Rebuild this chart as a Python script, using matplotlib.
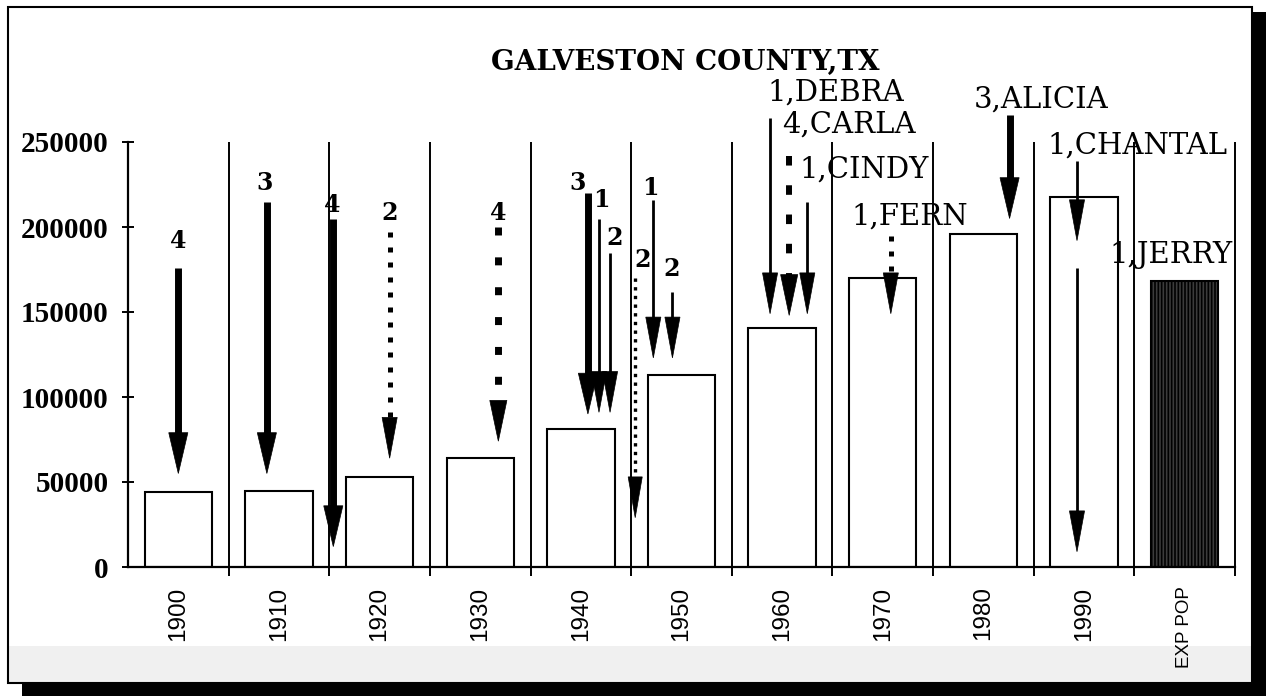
import numpy as np
import matplotlib
matplotlib.use("Agg")
import matplotlib.pyplot as plt
from matplotlib import patches

# census population per decade + expected population
categories = ["1900", "1910", "1920", "1930", "1940", "1950", "1960", "1970", "1980", "1990", "EXP POP"]
population = [44100, 44500, 53200, 64400, 81200, 113100, 140400, 169800, 195900, 217400, 168000]

# hurricane arrows: x position (category units), top value, tip value, style, label
arrow_x     = [0.0, 0.88, 1.54, 2.10, 3.18, 4.07, 4.18, 4.29, 4.54, 4.72, 4.91, 5.88, 6.07, 6.25, 7.08, 8.26, 8.93, 8.93]
arrow_top   = [176000, 215000, 205000, 197000, 200000, 220000, 205000, 185000, 170000, 216000, 162000,
               264000, 242000, 215000, 195000, 266000, 239000, 176000]
arrow_tip   = [55000, 55000, 12000, 64000, 74000, 90000, 91000, 91000, 29000, 123000, 123000,
               149000, 148000, 149000, 149000, 205000, 192000, 9000]
arrow_style = ["thick", "thick", "thick", "dot", "dash", "thick", "thin", "thin", "dot_thin", "thin", "thin",
               "thin", "dash2", "thin", "dot", "thick", "thin", "thin"]
arrow_label = ["4", "3", "4", "2", "4", "3", "1", "2", "2", "1", "2",
               "1,DEBRA", "4,CARLA", "1,CINDY", "1,FERN", "3,ALICIA", "1,CHANTAL", "1,JERRY"]
label_x = [0.0, 0.86, 1.53, 2.10, 3.18, 3.97, 4.20, 4.34, 4.61, 4.69, 4.90, 6.53, 6.66, 6.81, 7.27, 8.57, 9.53, 9.86]
label_y = [192000, 226000, 213000, 208000, 208000, 226000, 216000, 193500, 180500, 223000, 175000,
           279000, 260000, 233500, 206000, 275000, 248000, 183500]

styles = {
    "thick":    dict(lw=5.0, ls="-", hw=0.19),
    "thin":     dict(lw=2.0, ls="-", hw=0.15),
    "dot":      dict(lw=3.6, ls=(0, (1, 2)), hw=0.15),
    "dot_thin": dict(lw=2.4, ls=(0, (1, 1.6)), hw=0.14),
    "dash":     dict(lw=5.0, ls=(0, (1.15, 3.15)), hw=0.17),
    "dash2":    dict(lw=4.3, ls=(0, (1.6, 3.3)), hw=0.17),
}
head_len = 24000

fig = plt.figure(figsize=(12.66, 6.96), dpi=100)
ax = fig.add_axes([128 / 1266, 129 / 696, 1107 / 1266, 425 / 696])

plt.rcParams["hatch.linewidth"] = 1.2
x = np.arange(len(categories))
colors = ["white"] * (len(categories) - 1) + ["#3c3c3c"]
bars = ax.bar(x, population, width=0.67, color=colors, edgecolor="black", linewidth=1.5, zorder=2)
bars[-1].set_hatch("|||||")

# separators between categories
ax.vlines(np.arange(0.5, len(categories), 1.0), -5000, 250000, color="black", lw=1.4, clip_on=False, zorder=1)

for xa, top, tip, st, lab, lx, ly in zip(arrow_x, arrow_top, arrow_tip, arrow_style,
                                         arrow_label, label_x, label_y):
    s = styles[st]
    ax.plot([xa, xa], [top, tip + head_len * 0.6], color="black", lw=s["lw"], ls=s["ls"],
            solid_capstyle="butt", clip_on=False, zorder=4)
    ax.arrow(xa, tip + head_len, 0, -head_len, width=0, head_width=s["hw"], head_length=head_len,
             length_includes_head=True, fc="black", ec="black", lw=0.5, clip_on=False, zorder=5)
    if "," in lab:
        ax.text(lx, ly, lab, ha="center", va="center", fontsize=21, family="DejaVu Serif", zorder=6)
    else:
        ax.text(lx, ly, lab, ha="center", va="center", fontsize=17, fontweight="bold",
                family="DejaVu Serif", zorder=6)

ax.set_xlim(-0.5, 10.5)
ax.set_ylim(0, 250000)
ax.set_yticks([0, 50000, 100000, 150000, 200000, 250000])
ax.set_yticklabels(["0", "50000", "100000", "150000", "200000", "250000"],
                   family="Liberation Serif", fontweight="bold", fontsize=21)
ax.set_xticks(x)
ax.set_xticklabels(categories, rotation=90, family=["Liberation Sans Narrow", "Liberation Sans"], fontsize=17.5)
ax.get_xticklabels()[-1].set_fontsize(13.5)
ax.tick_params(axis="y", direction="inout", length=8, width=1.4, pad=10)
ax.tick_params(axis="x", direction="in", length=3, width=1.2, pad=14)
for side in ["top", "right"]:
    ax.spines[side].set_visible(False)
for side in ["left", "bottom"]:
    ax.spines[side].set_linewidth(1.6)

fig.text(685 / 1266, 1 - 62 / 696, "GALVESTON COUNTY,TX", ha="center", va="center",
         fontsize=20, fontweight="bold", family="DejaVu Serif")

# scanned page frame and shadow
fig.patches.append(patches.Rectangle((8 / 1266, 14 / 696), 1244 / 1266, 36 / 696, transform=fig.transFigure,
                                     fc="#f0f0f0", ec="none", zorder=-5))
fig.patches.append(patches.Rectangle((8 / 1266, 13 / 696), 1244 / 1266, 676 / 696, transform=fig.transFigure,
                                     fill=False, ec="black", lw=1.5))
fig.patches.append(patches.Rectangle((1252 / 1266, 0), 14 / 1266, 684 / 696, transform=fig.transFigure,
                                     fc="black", ec="none"))
fig.patches.append(patches.Rectangle((22 / 1266, 0), 1244 / 1266, 12 / 696, transform=fig.transFigure,
                                     fc="black", ec="none"))

fig.savefig("out.png", dpi=100, facecolor="white")
